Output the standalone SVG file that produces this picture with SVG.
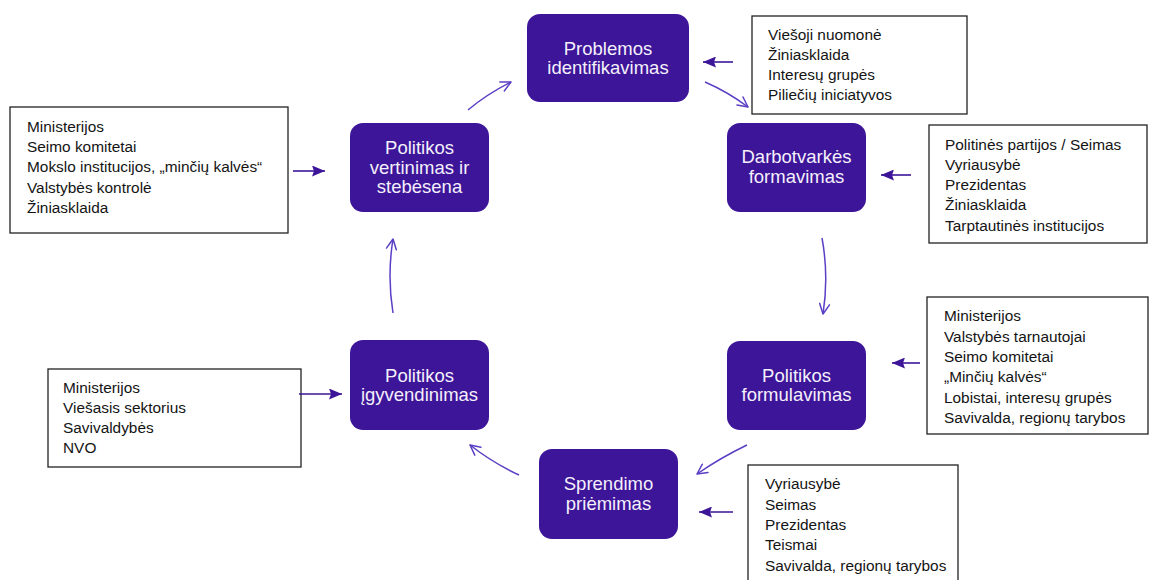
<svg xmlns="http://www.w3.org/2000/svg" width="1149" height="580" viewBox="0 0 1149 580">
  <style>
    .stage rect { fill: #3d1598; }
    .stage text { fill: #f4f0fb; font-family: "Liberation Sans", Arial, sans-serif; font-size: 18.5px; text-anchor: middle; }
    .actors rect { fill: #ffffff; stroke: #222222; stroke-width: 1.3; }
    .actors text { fill: #141414; font-family: "Liberation Sans", Arial, sans-serif; font-size: 15.4px; }
    .cycle { fill: none; stroke: #5b3fc4; stroke-width: 1.5; marker-end: url(#open); }
    .input { fill: none; stroke: #3d1598; stroke-width: 1.6; marker-end: url(#solid); }
  </style>
  <defs>
    <marker id="open" viewBox="0 0 12 12" refX="11" refY="6" markerWidth="12" markerHeight="12" markerUnits="userSpaceOnUse" orient="auto">
      <path d="M1,1 L11,6 L1,11" fill="none" stroke="#5b3fc4" stroke-width="1.5" stroke-linecap="round" stroke-linejoin="round"/>
    </marker>
    <marker id="solid" viewBox="0 0 13 11" refX="13" refY="5.5" markerWidth="13" markerHeight="11" markerUnits="userSpaceOnUse" orient="auto">
      <path d="M0,0 L13,5.5 L0,11 L2,5.5 Z" fill="#3d1598"/>
    </marker>
  </defs>

  <rect width="1149" height="580" fill="#ffffff"/>

  <!-- policy cycle stages -->
  <g id="problemos" class="stage">
    <rect x="527" y="14" width="162" height="88" rx="13"/>
    <text x="608" y="55">Problemos</text>
    <text x="608" y="74">identifikavimas</text>
  </g>
  <g id="darbotvarke" class="stage">
    <rect x="727" y="123" width="139" height="89" rx="13"/>
    <text x="796.5" y="163">Darbotvarkės</text>
    <text x="796.5" y="183">formavimas</text>
  </g>
  <g id="formulavimas" class="stage">
    <rect x="727" y="341" width="139" height="89" rx="13"/>
    <text x="796.5" y="382">Politikos</text>
    <text x="796.5" y="401">formulavimas</text>
  </g>
  <g id="sprendimas" class="stage">
    <rect x="539" y="449" width="139" height="90" rx="13"/>
    <text x="608.5" y="490">Sprendimo</text>
    <text x="608.5" y="510">priėmimas</text>
  </g>
  <g id="igyvendinimas" class="stage">
    <rect x="350" y="340" width="139" height="90" rx="13"/>
    <text x="419.5" y="382">Politikos</text>
    <text x="419.5" y="401">įgyvendinimas</text>
  </g>
  <g id="vertinimas" class="stage">
    <rect x="350" y="123" width="139" height="89" rx="13"/>
    <text x="419.5" y="154">Politikos</text>
    <text x="419.5" y="174">vertinimas ir</text>
    <text x="419.5" y="193">stebėsena</text>
  </g>

  <!-- actors involved at each stage -->
  <g id="actors-problemos" class="actors">
    <rect x="752" y="16" width="215" height="98"/>
    <text x="768" y="40">Viešoji nuomonė</text>
    <text x="768" y="60">Žiniasklaida</text>
    <text x="768" y="80">Interesų grupės</text>
    <text x="768" y="100">Piliečių iniciatyvos</text>
  </g>
  <g id="actors-darbotvarke" class="actors">
    <rect x="929" y="125" width="218" height="118"/>
    <text x="945" y="150">Politinės partijos / Seimas</text>
    <text x="945" y="170">Vyriausybė</text>
    <text x="945" y="190">Prezidentas</text>
    <text x="945" y="210">Žiniasklaida</text>
    <text x="945" y="231">Tarptautinės institucijos</text>
  </g>
  <g id="actors-formulavimas" class="actors">
    <rect x="927" y="297" width="221" height="137"/>
    <text x="944" y="321">Ministerijos</text>
    <text x="944" y="341.5">Valstybės tarnautojai</text>
    <text x="944" y="362">Seimo komitetai</text>
    <text x="944" y="382">„Minčių kalvės“</text>
    <text x="944" y="402.5">Lobistai, interesų grupės</text>
    <text x="944" y="423">Savivalda, regionų tarybos</text>
  </g>
  <g id="actors-sprendimas" class="actors">
    <rect x="748" y="465" width="210" height="130"/>
    <text x="765" y="489">Vyriausybė</text>
    <text x="765" y="510">Seimas</text>
    <text x="765" y="530">Prezidentas</text>
    <text x="765" y="550">Teismai</text>
    <text x="765" y="571">Savivalda, regionų tarybos</text>
  </g>
  <g id="actors-igyvendinimas" class="actors">
    <rect x="48" y="369" width="253" height="98"/>
    <text x="63" y="393">Ministerijos</text>
    <text x="63" y="413">Viešasis sektorius</text>
    <text x="63" y="433">Savivaldybės</text>
    <text x="63" y="453">NVO</text>
  </g>
  <g id="actors-vertinimas" class="actors">
    <rect x="10" y="107" width="278" height="126"/>
    <text x="27" y="132">Ministerijos</text>
    <text x="27" y="152">Seimo komitetai</text>
    <text x="27" y="172">Mokslo institucijos, „minčių kalvės“</text>
    <text x="27" y="193">Valstybės kontrolė</text>
    <text x="27" y="213">Žiniasklaida</text>
  </g>

  <!-- connectors -->
  <g id="connectors">
    <path class="cycle" d="M468,110 Q487,94 511,82"/>
    <path class="cycle" d="M705,82 Q728,92 748,107"/>
    <path class="cycle" d="M822,238 Q829,276 823,314"/>
    <path class="cycle" d="M747,445 Q720,458 697,474"/>
    <path class="cycle" d="M519,475 Q493,463 470,445"/>
    <path class="cycle" d="M393,313 Q387,276 393,239"/>

    <line class="input" x1="733" y1="62" x2="703" y2="62"/>
    <line class="input" x1="911" y1="175" x2="881" y2="175"/>
    <line class="input" x1="920" y1="363" x2="892" y2="363"/>
    <line class="input" x1="733" y1="512" x2="699" y2="512"/>
    <line class="input" x1="293" y1="171" x2="325" y2="171"/>
    <line class="input" x1="299" y1="394" x2="342" y2="394"/>
  </g>
</svg>
